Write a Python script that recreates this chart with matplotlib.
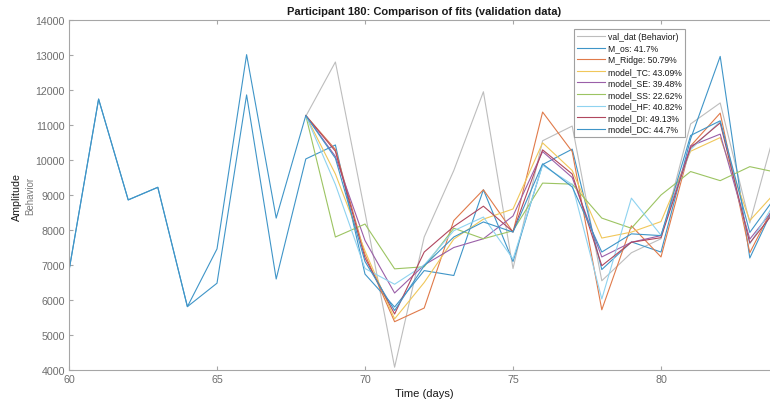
import matplotlib
matplotlib.use("Agg")
import matplotlib.pyplot as plt

plt.rcParams['font.family'] = ['Liberation Sans', 'DejaVu Sans']

days_full = list(range(60, 85))
days_val = list(range(68, 85))

val_dat = [11250, 12800, 8500, 4080, 7800, 9700, 11950, 6900, 10550, 10970,
           6550, 7350, 7750, 11030, 11630, 8200, 11300]

M_os = [6840, 11740, 8860, 9220, 5810, 6480, 11860, 6600,
        10030, 10430, 6740, 5800, 6840, 6700, 9150, 7100, 9870, 10310,
        6870, 7660, 7370, 10600, 12960, 7200, 9000]
M_Ridge = [11270, 10300, 7300, 5380, 5770, 8270, 9150, 7940, 11370, 10240,
           5720, 8120, 7230, 10400, 11340, 7350, 9000]
model_TC = [11270, 9600, 7400, 5460, 6500, 7740, 8310, 8600, 10490, 9700,
            7770, 7940, 8240, 10250, 10640, 8270, 9200]
model_SE = [11270, 10100, 7700, 6200, 7000, 7500, 7750, 8400, 10240, 9500,
            7230, 7650, 7840, 10400, 10740, 7740, 8800]
model_SS = [11270, 7800, 8170, 6890, 6950, 8050, 7750, 7980, 9340, 9310,
            8340, 8050, 9000, 9670, 9410, 9810, 9630]
model_HF = [11270, 9300, 6900, 6450, 7000, 7980, 8370, 7170, 9850, 9300,
            6030, 8910, 7850, 10300, 11100, 7600, 9000]
model_DI = [11270, 10250, 7200, 5600, 7370, 8100, 8680, 7950, 10290, 9600,
            6980, 7650, 7780, 10350, 11060, 7630, 8700]
model_DC = [6840, 11740, 8860, 9220, 5810, 7460, 13010, 8340,
            11270, 10050, 7100, 5700, 6980, 7800, 8230, 7940, 9890, 9230,
            7370, 7890, 7840, 10700, 11120, 7930, 9100]

labels = ['val_dat (Behavior)', 'M_os: 41.7%', 'M_Ridge: 50.79%', 'model_TC: 43.09%',
          'model_SE: 39.48%', 'model_SS: 22.62%', 'model_HF: 40.82%',
          'model_DI: 49.13%', 'model_DC: 44.7%']

c_gray = '#bdbdbd'
c_blue = '#3f95c8'
c_orange = '#e07a4a'
c_yellow = '#f0c75a'
c_purple = '#9a5fa8'
c_green = '#9cc462'
c_lblue = '#8fd3f0'
c_red = '#b0475e'

fig = plt.figure(figsize=(7.7, 4.06), dpi=100)
ax = fig.add_axes([69/770, 35/406, (779.4-69)/770, 350/406])

lw = 0.8
ax.plot(days_val, val_dat, color=c_gray, lw=lw, label=labels[0])
ax.plot(days_full, M_os, color=c_blue, lw=lw, label=labels[1])
ax.plot(days_val, M_Ridge, color=c_orange, lw=lw, label=labels[2])
ax.plot(days_val, model_TC, color=c_yellow, lw=lw, label=labels[3])
ax.plot(days_val, model_SE, color=c_purple, lw=lw, label=labels[4])
ax.plot(days_val, model_SS, color=c_green, lw=lw, label=labels[5])
ax.plot(days_val, model_HF, color=c_lblue, lw=lw, label=labels[6])
ax.plot(days_val, model_DI, color=c_red, lw=lw, label=labels[7])
ax.plot(days_full, model_DC, color=c_blue, lw=lw, label=labels[8])

ax.set_xlim(60, 84)
ax.set_ylim(4000, 14000)
ax.set_xticks([60, 65, 70, 75, 80])
ax.set_yticks(list(range(4000, 14001, 1000)))

axc = '#a6a6a6'
for s in ax.spines.values():
    s.set_color(axc)
    s.set_linewidth(0.8)
ax.tick_params(direction='in', top=True, right=True, length=3, width=0.8,
               color=axc, labelcolor='#6e6e6e', labelsize=7.7, pad=3)

ax.set_title('Participant 180: Comparison of fits (validation data)',
             fontsize=8, fontweight='bold', color='#1a1a1a', pad=4)
ax.set_xlabel('Time (days)', fontsize=8, color='#1a1a1a', labelpad=3)

fig.text(17/770, 1-197/406, 'Amplitude', rotation=90, ha='center', va='center',
         fontsize=7.7, color='#1a1a1a')
fig.text(30/770, 1-196/406, 'Behavior', rotation=90, ha='center', va='center',
         fontsize=7, color='#7a7a7a')

leg = ax.legend(loc='upper left', bbox_to_anchor=(574/770, 1-30/406),
                bbox_transform=fig.transFigure, fontsize=6.2, frameon=True,
                fancybox=False, edgecolor='#8a8a8a', handlelength=3.2,
                handletextpad=0.4, labelspacing=0.3, borderpad=0.35,
                borderaxespad=0)
leg.get_frame().set_linewidth(0.8)
for t in leg.get_texts():
    t.set_color('#1a1a1a')

fig.savefig('out.png', dpi=100)
